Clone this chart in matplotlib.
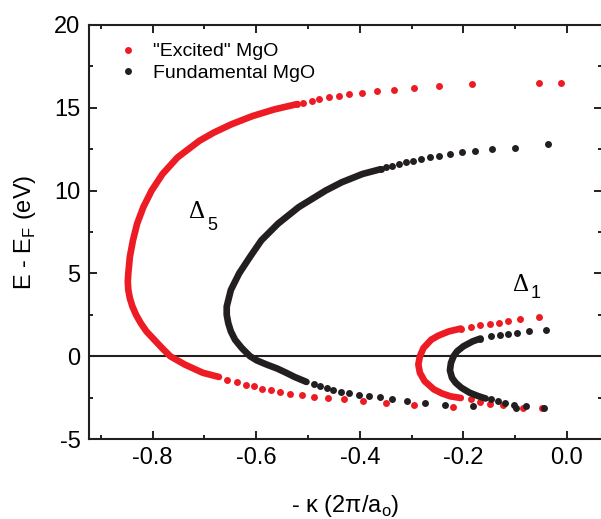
import numpy as np
import matplotlib.pyplot as plt
from matplotlib.ticker import MultipleLocator

RED = "#ed1c24"
BLACK = "#231f20"

# "Excited" MgO, Delta5 branch: well separated points (top and bottom tails)
ex5_top_k = [-0.012, -0.054, -0.183, -0.248, -0.296, -0.334, -0.367, -0.395,
             -0.420, -0.441, -0.460, -0.478, -0.492, -0.509, -0.521]
ex5_top_e = [16.50, 16.50, 16.41, 16.30, 16.20, 16.10, 16.00, 15.92,
             15.80, 15.70, 15.62, 15.50, 15.42, 15.30, 15.22]
# dense part, where the points merge into a thick band
ex5_mid_k = [-0.521, -0.565, -0.607, -0.648, -0.682, -0.710, -0.752, -0.781,
             -0.802, -0.818, -0.830, -0.838, -0.844, -0.847, -0.848, -0.847,
             -0.844, -0.839, -0.832, -0.823, -0.812, -0.797, -0.782, -0.766,
             -0.738, -0.703, -0.672]
ex5_mid_e = [15.22, 14.9, 14.5, 14.0, 13.5, 13.0, 12.0, 11.0,
             10.0, 9.0, 8.0, 7.0, 6.0, 5.0, 4.5, 4.0,
             3.5, 3.0, 2.5, 2.0, 1.5, 1.0, 0.5, 0.0,
             -0.5, -1.0, -1.25]
ex5_bot_k = [-0.656, -0.638, -0.620, -0.604, -0.589, -0.572, -0.554, -0.534,
             -0.512, -0.489, -0.461, -0.431, -0.394, -0.350, -0.296, -0.221,
             -0.049]
ex5_bot_e = [-1.41, -1.57, -1.71, -1.81, -1.95, -2.05, -2.16, -2.25,
             -2.34, -2.46, -2.54, -2.60, -2.70, -2.80, -2.93, -3.04,
             -3.11]

# Fundamental MgO, Delta5 branch
fu5_top_k = [-0.037, -0.101, -0.144, -0.178, -0.203, -0.226, -0.247, -0.265,
             -0.281, -0.297, -0.311, -0.325, -0.338, -0.349, -0.360]
fu5_top_e = [12.80, 12.60, 12.50, 12.40, 12.30, 12.20, 12.10, 12.00,
             11.90, 11.79, 11.70, 11.59, 11.49, 11.40, 11.29]
fu5_mid_k = [-0.360, -0.395, -0.435, -0.466, -0.518, -0.558, -0.590, -0.612,
             -0.633, -0.649, -0.657, -0.657, -0.654, -0.649, -0.641, -0.628,
             -0.612, -0.599, -0.580, -0.559, -0.542, -0.526, -0.503]
fu5_mid_e = [11.29, 11.0, 10.5, 10.0, 9.0, 8.0, 7.0, 6.0,
             5.0, 4.0, 3.0, 2.5, 2.0, 1.5, 1.0, 0.5,
             0.0, -0.25, -0.5, -0.75, -1.0, -1.25, -1.55]
fu5_bot_k = [-0.489, -0.476, -0.463, -0.452, -0.436, -0.421, -0.402, -0.383,
             -0.361, -0.337, -0.308, -0.275, -0.235, -0.181, -0.099, -0.044]
fu5_bot_e = [-1.65, -1.81, -1.91, -2.01, -2.14, -2.22, -2.31, -2.42,
             -2.49, -2.61, -2.72, -2.81, -2.92, -3.02, -3.11, -3.12]

# "Excited" MgO, Delta1 branch
ex1_top_k = [-0.054, -0.090, -0.114, -0.132, -0.149, -0.167, -0.186, -0.205]
ex1_top_e = [2.34, 2.22, 2.11, 2.01, 1.93, 1.87, 1.77, 1.67]
ex1_mid_k = [-0.205, -0.228, -0.248, -0.262, -0.277, -0.284, -0.287, -0.284,
             -0.275, -0.257, -0.241, -0.225, -0.205]
ex1_mid_e = [1.67, 1.5, 1.25, 1.0, 0.5, 0.0, -0.5, -1.0,
             -1.5, -2.0, -2.25, -2.42, -2.52]
ex1_bot_k = [-0.186, -0.167, -0.149, -0.124, -0.084]
ex1_bot_e = [-2.61, -2.74, -2.86, -2.96, -3.11]

# Fundamental MgO, Delta1 branch
fu1_top_k = [-0.041, -0.074, -0.097, -0.114, -0.130, -0.147, -0.167]
fu1_top_e = [1.61, 1.51, 1.41, 1.37, 1.31, 1.21, 1.07]
fu1_mid_k = [-0.167, -0.182, -0.200, -0.212, -0.219, -0.224, -0.226, -0.222,
             -0.215, -0.204, -0.188, -0.172, -0.157]
fu1_mid_e = [1.07, 0.9, 0.6, 0.3, 0.0, -0.4, -0.85, -1.3,
             -1.6, -1.9, -2.2, -2.4, -2.55]
fu1_bot_k = [-0.147, -0.134, -0.120, -0.102, -0.079]
fu1_bot_e = [-2.61, -2.70, -2.82, -2.92, -3.00]


plt.rcParams["font.family"] = ["Liberation Sans", "DejaVu Sans"]
plt.rcParams["mathtext.fontset"] = "custom"
plt.rcParams["mathtext.rm"] = "Liberation Sans"

fig = plt.figure(figsize=(6.01, 5.19), dpi=100)
ax = fig.add_axes([0.148, 0.154, 0.854, 0.798])

ms = 5.0
lw = 4.8


def draw_branch(top_k, top_e, mid_k, mid_e, bot_k, bot_e, color, label=None):
    ax.plot(mid_k, mid_e, color=color, lw=lw, solid_capstyle="round",
            solid_joinstyle="round", zorder=3)
    ax.plot(top_k + bot_k, top_e + bot_e, "o", color=color, ms=ms, mew=0,
            zorder=3, label=label)


draw_branch(ex5_top_k, ex5_top_e, ex5_mid_k, ex5_mid_e, ex5_bot_k, ex5_bot_e,
            RED, '"Excited" MgO')
draw_branch(fu5_top_k, fu5_top_e, fu5_mid_k, fu5_mid_e, fu5_bot_k, fu5_bot_e,
            BLACK, "Fundamental MgO")
draw_branch(ex1_top_k, ex1_top_e, ex1_mid_k, ex1_mid_e, ex1_bot_k, ex1_bot_e, RED)
draw_branch(fu1_top_k, fu1_top_e, fu1_mid_k, fu1_mid_e, fu1_bot_k, fu1_bot_e, BLACK)

ax.axhline(0, color=BLACK, lw=1.5, zorder=2)

ax.set_xlim(-0.923, 0.068)
ax.set_ylim(-5, 20)
ax.xaxis.set_minor_locator(MultipleLocator(0.1))
ax.yaxis.set_minor_locator(MultipleLocator(2.5))
ax.set_xticks([-0.8, -0.6, -0.4, -0.2, 0.0])
ax.set_xticklabels(["-0.8", "-0.6", "-0.4", "-0.2", "0.0"])
ax.set_yticks([-5, 0, 5, 10, 15, 20])
ax.set_yticklabels(["-5", "0", "5", "10", "15", "20"])
ax.tick_params(which="both", direction="in", top=True, right=True,
               width=1.4, color=BLACK, labelsize=17, pad=6)
ax.tick_params(which="major", length=5.5)
ax.tick_params(which="minor", length=3)
for s in ax.spines.values():
    s.set_linewidth(1.5)
    s.set_color(BLACK)

ax.set_ylabel(r"E - E$_\mathrm{F}$ (eV)", fontsize=17)
ax.set_xlabel(r"- κ (2π/a$_\mathrm{o}$)", fontsize=17)
ax.yaxis.set_label_coords(-0.10, 0.5)
ax.xaxis.set_label_coords(0.5, -0.13)

ax.text(-0.730, 8.33, "Δ", fontsize=18, family="Liberation Serif")
ax.text(-0.694, 7.65, "5", fontsize=13)
ax.text(-0.104, 3.93, "Δ", fontsize=18, family="Liberation Serif")
ax.text(-0.070, 3.50, "1", fontsize=13)

ax.legend(loc="upper left", bbox_to_anchor=(0.035, 0.985), frameon=False,
          fontsize=14, handlelength=1.0, handletextpad=0.75,
          labelspacing=0.2, borderaxespad=0.2, markerscale=1.0)

fig.savefig("out.png", dpi=100)
